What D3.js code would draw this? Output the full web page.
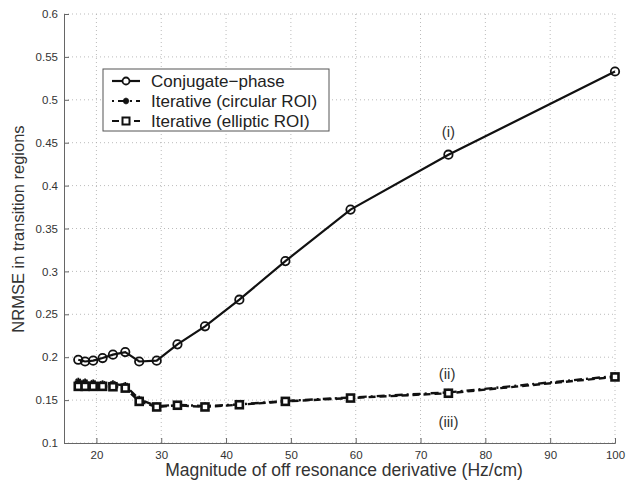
<!DOCTYPE html>
<html><head><meta charset="utf-8">
<script src="https://cdn.jsdelivr.net/npm/d3@7/dist/d3.min.js"></script>
<style>body{margin:0;background:#fff;}svg{display:block;font-family:"Liberation Sans",Arial,sans-serif;}</style>
</head><body>
<svg id="c" width="630" height="481"></svg>
<script>
const xVals = [17.2, 18.25, 19.5, 20.95, 22.55, 24.45, 26.6, 29.3, 32.5, 36.75, 42.05, 49.15, 59.2, 74.3, 100];
const conjugate = [0.197, 0.195, 0.196, 0.199, 0.203, 0.206, 0.195, 0.196, 0.215, 0.236, 0.267, 0.312, 0.372, 0.436, 0.533];
const circular = [0.172, 0.171, 0.170, 0.169, 0.169, 0.167, 0.151, 0.143, 0.1445, 0.143, 0.145, 0.149, 0.153, 0.159, 0.178];
const elliptic = [0.166, 0.166, 0.166, 0.166, 0.1656, 0.164, 0.1485, 0.142, 0.144, 0.142, 0.1446, 0.1485, 0.1524, 0.158, 0.177];
const xTicks = [20, 30, 40, 50, 60, 70, 80, 90, 100];
const yTicks = [0.1, 0.15, 0.2, 0.25, 0.3, 0.35, 0.4, 0.45, 0.5, 0.55, 0.6];
const seriesNames = ["Conjugate\u2212phase", "Iterative (circular ROI)", "Iterative (elliptic ROI)"];
const annotations = [{t:"(i)", x:74.3, y:0.4566}, {t:"(ii)", x:74.1, y:0.1746}, {t:"(iii)", x:74.3, y:0.1186}];

const svg = d3.select("#c");
const L=64, R=615, T=14, B=443;
const x = d3.scaleLinear().domain([15,100]).range([L,R]);
const y = d3.scaleLinear().domain([0.1,0.6]).range([B,T]);
const ink = "#111";

// grid
const g = svg.append("g");
g.selectAll(".gx").data(xTicks).join("line")
  .attr("x1",d=>x(d)).attr("x2",d=>x(d)).attr("y1",T).attr("y2",B)
  .attr("stroke","#aaa").attr("stroke-width",0.8).attr("stroke-dasharray","1,3");
g.selectAll(".gy").data(yTicks).join("line")
  .attr("x1",L).attr("x2",R).attr("y1",d=>y(d)).attr("y2",d=>y(d))
  .attr("stroke","#aaa").attr("stroke-width",0.8).attr("stroke-dasharray","1,3");

// axes
const xa = svg.append("g").attr("transform",`translate(0,${B})`)
  .call(d3.axisBottom(x).tickValues(xTicks).tickSize(-5).tickPadding(8).tickFormat(d3.format("d")));
const ya = svg.append("g").attr("transform",`translate(${L},0)`)
  .call(d3.axisLeft(y).tickValues(yTicks).tickSize(-5).tickPadding(6).tickFormat(d=>d3.format("")(+d.toFixed(2))));
[xa,ya].forEach(a=>{
  a.select(".domain").attr("stroke","#666").attr("stroke-width",1);
  a.selectAll(".tick line").attr("stroke","#666");
  a.selectAll("text").attr("font-size",11.5).attr("fill","#333");
});

svg.append("text").attr("x",344).attr("y",476).attr("text-anchor","middle")
  .attr("font-size",17.5).attr("fill","#333").text("Magnitude of off resonance derivative (Hz/cm)");
svg.append("text").attr("transform",`translate(24,${229}) rotate(-90)`).attr("text-anchor","middle")
  .attr("font-size",16.5).attr("fill","#333").text("NRMSE in transition regions");

const line = d3.line().x(d=>x(d[0])).y(d=>y(d[1]));
const zip = arr => xVals.map((v,i)=>[v,arr[i]]);

// elliptic (dashed, squares)
svg.append("path").datum(zip(elliptic)).attr("d",line).attr("fill","none")
  .attr("stroke",ink).attr("stroke-width",2.4).attr("stroke-dasharray","7,4");
// circular (dash-dot)
svg.append("path").datum(zip(circular)).attr("d",line).attr("fill","none")
  .attr("stroke",ink).attr("stroke-width",2.4).attr("stroke-dasharray","8,4,2,4");
// conjugate solid
svg.append("path").datum(zip(conjugate)).attr("d",line).attr("fill","none")
  .attr("stroke",ink).attr("stroke-width",2.2);

function star(gsel, cx, cy, s){
  const a = gsel.append("g").attr("stroke",ink).attr("stroke-width",1.8);
  a.append("line").attr("x1",cx-s).attr("x2",cx+s).attr("y1",cy).attr("y2",cy);
  a.append("line").attr("x1",cx).attr("x2",cx).attr("y1",cy-s).attr("y2",cy+s);
  a.append("line").attr("x1",cx-s*0.7).attr("x2",cx+s*0.7).attr("y1",cy-s*0.7).attr("y2",cy+s*0.7);
  a.append("line").attr("x1",cx-s*0.7).attr("x2",cx+s*0.7).attr("y1",cy+s*0.7).attr("y2",cy-s*0.7);
}
const mk = svg.append("g");
zip(circular).forEach(d=>star(mk, x(d[0]), y(d[1]), 3.5));
mk.selectAll(".sq").data(zip(elliptic)).join("rect")
  .attr("x",d=>x(d[0])-3.5).attr("y",d=>y(d[1])-3.5).attr("width",7).attr("height",7)
  .attr("fill","#fff").attr("stroke",ink).attr("stroke-width",2.6);
mk.selectAll(".ci").data(zip(conjugate)).join("circle")
  .attr("cx",d=>x(d[0])).attr("cy",d=>y(d[1])).attr("r",4.2)
  .attr("fill","none").attr("stroke",ink).attr("stroke-width",1.8);

// annotations
svg.selectAll(".ann").data(annotations).join("text")
  .attr("x",d=>x(d.x)).attr("y",d=>y(d.y)).attr("text-anchor","middle")
  .attr("font-size",15).attr("fill","#333").text(d=>d.t);

// legend
const lg = svg.append("g");
lg.append("rect").attr("x",103).attr("y",69).attr("width",226).attr("height",62)
  .attr("fill","#fff").attr("stroke","#555").attr("stroke-width",1);
const ly = [81, 101, 121];
const dashes = [null, "2,4,8,4", "7,4"];
seriesNames.forEach((n,i)=>{
  lg.append("line").attr("x1",112).attr("x2",140).attr("y1",ly[i]).attr("y2",ly[i])
    .attr("stroke",ink).attr("stroke-width",2.2).attr("stroke-dasharray",dashes[i]);
  if(i===0) lg.append("circle").attr("cx",126).attr("cy",ly[i]).attr("r",3.5).attr("fill","#fff").attr("stroke",ink).attr("stroke-width",1.8);
  if(i===1) star(lg,126,ly[i],3.2);
  if(i===2) lg.append("rect").attr("x",122.5).attr("y",ly[i]-3.5).attr("width",7).attr("height",7).attr("fill","#fff").attr("stroke",ink).attr("stroke-width",2);
  lg.append("text").attr("x",151).attr("y",ly[i]+6).attr("font-size",17).attr("fill","#222").text(n);
});
</script>
</body></html>
